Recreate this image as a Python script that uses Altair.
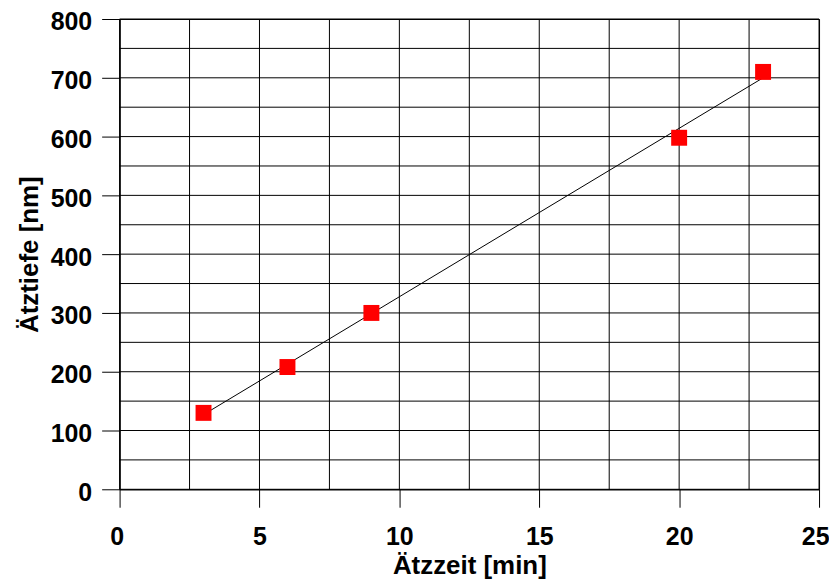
import altair as alt
import pandas as pd

# Measured data points
zeit = [3, 6, 9, 20, 23]
tiefe = [130, 208, 300, 598, 710]

# Fit line endpoints (as drawn in the reference)
fit_zeit = [3, 23]
fit_tiefe = [127, 700]

# Tick labels and grid positions
x_ticks = [0, 5, 10, 15, 20, 25]
y_ticks = [0, 100, 200, 300, 400, 500, 600, 700, 800]
x_grid = [0, 2.5, 5, 7.5, 10, 12.5, 15, 17.5, 20, 22.5, 25]
y_grid = [0, 50, 100, 150, 200, 250, 300, 350, 400, 450, 500, 550, 600, 650, 700, 750, 800]

pts = pd.DataFrame({"x": zeit, "y": tiefe})
fit = pd.DataFrame({"x": fit_zeit, "y": fit_tiefe})
xg = pd.DataFrame({"x": x_grid})
yg = pd.DataFrame({"y": y_grid})

FONT = "Liberation Sans"

x_scale = alt.Scale(domain=[0, 25], nice=False, zero=False)
y_scale = alt.Scale(domain=[0, 800], nice=False, zero=False)

x_axis = alt.Axis(
    values=x_ticks,
    title="Ätzzeit [min]",
    grid=False,
    tickSize=18,
    tickColor="#000000",
    tickWidth=1,
    domainColor="#000000",
    labelFont=FONT,
    labelFontSize=25,
    labelFontWeight="bold",
    labelColor="#000000",
    labelPadding=17,
    labelFlush=True,
    labelFlushOffset=10,
    labelOverlap=False,
    titleFont=FONT,
    titleFontSize=26,
    titleFontWeight="bold",
    titleColor="#000000",
    titleBaseline="alphabetic",
    titleY=85,
)

y_axis = alt.Axis(
    values=y_ticks,
    title="Ätztiefe [nm]",
    grid=False,
    tickSize=18,
    tickColor="#000000",
    tickWidth=1,
    domainColor="#000000",
    labelFont=FONT,
    labelFontSize=25,
    labelFontWeight="bold",
    labelColor="#000000",
    labelPadding=10,
    labelOffset=3,
    labelFlush=False,
    labelOverlap=False,
    titleFont=FONT,
    titleFontSize=26,
    titleFontWeight="bold",
    titleColor="#000000",
    titlePadding=8,
)

X = lambda: alt.X("x:Q", scale=x_scale, axis=x_axis)
Y = lambda: alt.Y("y:Q", scale=y_scale, axis=y_axis)

vgrid = alt.Chart(xg).mark_rule(color="#000000", strokeWidth=1).encode(x=X())
hgrid = alt.Chart(yg).mark_rule(color="#000000", strokeWidth=1).encode(y=Y())

line = alt.Chart(fit).mark_line(color="#000000", strokeWidth=1).encode(x=X(), y=Y())

points = alt.Chart(pts).mark_square(color="#ff0000", size=256, opacity=1, filled=True).encode(
    x=X(), y=Y()
)

chart = (
    alt.layer(vgrid, hgrid, line, points)
    .properties(
        width=702,
        height=472,
        autosize=alt.AutoSizeParams(type="none"),
        padding={"left": 112, "top": 10, "right": 10, "bottom": 94},
        background="#ffffff",
    )
    .configure_view(stroke="#000000", strokeWidth=1)
)

chart.save("out.html", embed_options={"renderer": "svg", "actions": False})
